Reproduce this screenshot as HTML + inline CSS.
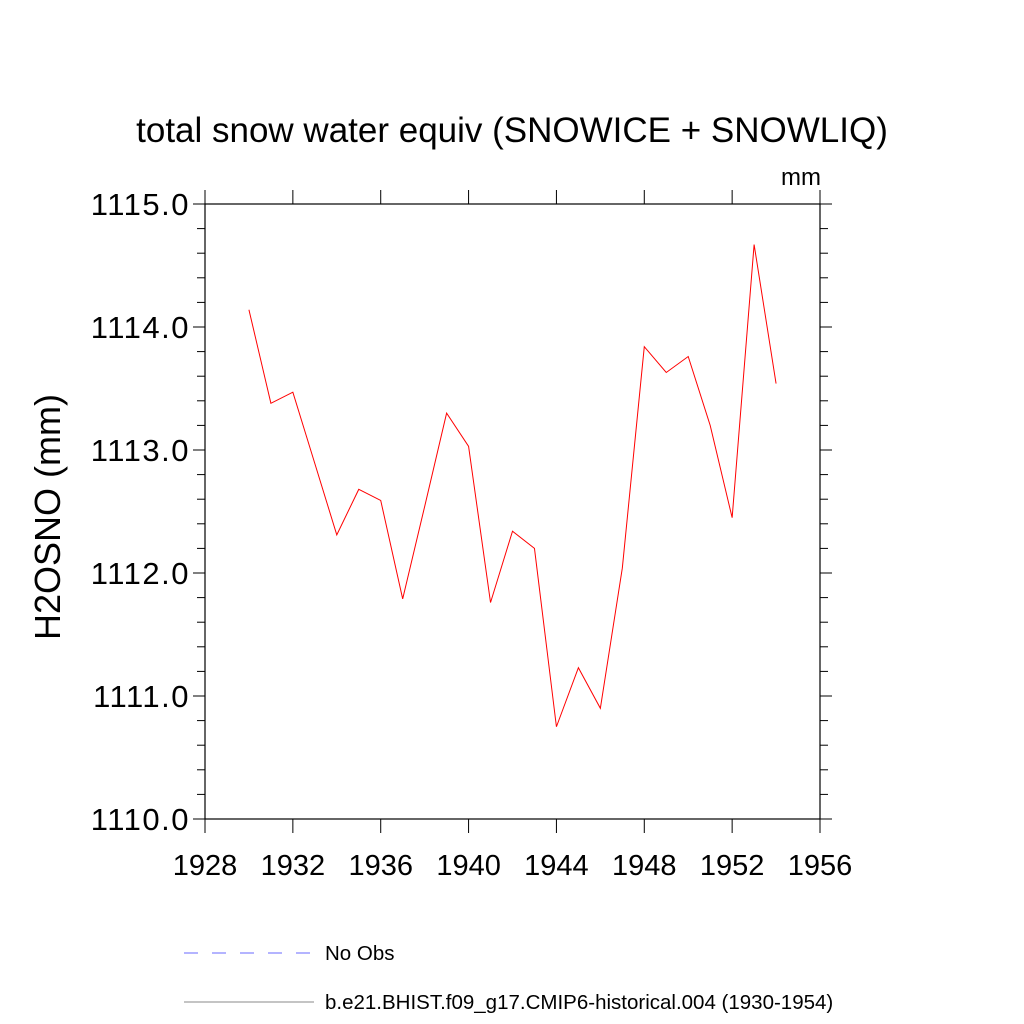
<!DOCTYPE html>
<html><head><meta charset="utf-8"><style>
body{margin:0;background:#fff}
svg{display:block;font-family:"Liberation Sans",sans-serif}
</style></head><body>
<svg id="c" width="1024" height="1024">
<text x="512" y="142" font-size="35" text-anchor="middle">total snow water equiv (SNOWICE + SNOWLIQ)</text>
<text x="821" y="185" font-size="24" text-anchor="end">mm</text>
<text transform="translate(60,517) rotate(-90)" font-size="36" text-anchor="middle">H2OSNO  (mm)</text>
<g id="axes"></g>
<line x1="184" y1="953" x2="314" y2="953" stroke="#6a6aff" stroke-width="1" stroke-dasharray="14,14"/>
<text x="325" y="960" font-size="20.5">No Obs</text>
<line x1="184" y1="1002" x2="314" y2="1002" stroke="#888" stroke-width="1"/>
<text x="325" y="1009" font-size="20.5">b.e21.BHIST.f09_g17.CMIP6-historical.004 (1930-1954)</text>
</svg>
<script>
const years=[1930,1931,1932,1933,1934,1935,1936,1937,1938,1939,1940,1941,1942,1943,1944,1945,1946,1947,1948,1949,1950,1951,1952,1953,1954];
const values=[1114.14,1113.38,1113.47,1112.89,1112.31,1112.68,1112.59,1111.79,1112.54,1113.30,1113.03,1111.76,1112.34,1112.20,1110.75,1111.23,1110.90,1112.04,1113.84,1113.63,1113.76,1113.20,1112.45,1114.67,1113.54];
const xTicks=[1928,1932,1936,1940,1944,1948,1952,1956];
const yTicks=[1110,1111,1112,1113,1114,1115];
const L=205,R=820,T=204,B=819,x0=1928,x1=1956,y0=1110,y1=1115;
const X=v=>L+(v-x0)/(x1-x0)*(R-L), Y=v=>B-(v-y0)/(y1-y0)*(B-T);
const NS="http://www.w3.org/2000/svg", g=document.getElementById('axes');
function mk(t,a){const e=document.createElementNS(NS,t);for(const k in a)e.setAttribute(k,a[k]);g.appendChild(e);return e;}
const fr=mk('rect',{x:L,y:T,width:R-L,height:B-T,fill:'none',stroke:'#000','stroke-width':1.2});


for(let v=y0;v<=y1+1e-9;v+=0.2){const m=Math.abs(v-Math.round(v))<1e-6,len=m?12:8,y=Y(v);
 const a=mk('line',{x1:L-len,y1:y,x2:L,y2:y,stroke:'#000','stroke-width':1});
 
 
 const b=mk('line',{x1:R,y1:y,x2:R+len,y2:y,stroke:'#000','stroke-width':1});
 
 }
yTicks.forEach(v=>{const t=mk('text',{x:L-15,y:Y(v)+11,'font-size':31,'text-anchor':'end','letter-spacing':1.5});t.textContent=v.toFixed(1);
 
 });
xTicks.forEach(v=>{const x=X(v);
 const a=mk('line',{x1:x,y1:B,x2:x,y2:B+14,stroke:'#000','stroke-width':1});
 
 
 const b=mk('line',{x1:x,y1:T-14,x2:x,y2:T,stroke:'#000','stroke-width':1});
 
 
 const t=mk('text',{x:x,y:B+56,'font-size':29,'text-anchor':'middle'});t.textContent=v;
 
 });
const p=mk('polyline',{points:years.map((y,i)=>X(y)+','+Y(values[i])).join(' '),fill:'none',stroke:'#ff0000','stroke-width':1});


</script>
</body></html>
